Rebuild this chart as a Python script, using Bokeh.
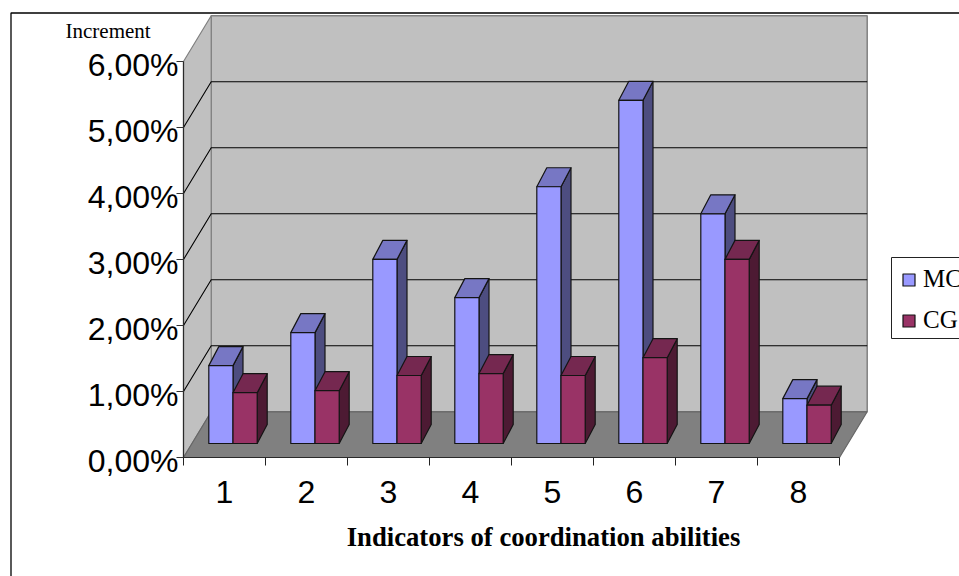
from bokeh.plotting import figure
from bokeh.models import LinearAxis, FixedTicker, Legend, LegendItem, Range1d, Label
from bokeh.embed import file_html
from bokeh.resources import INLINE

# ---- data
categories = ["1", "2", "3", "4", "5", "6", "7", "8"]
mc_values = [1.18, 1.68, 2.79, 2.21, 3.89, 5.20, 3.48, 0.68]
cg_values = [0.77, 0.80, 1.03, 1.06, 1.03, 1.30, 2.79, 0.58]
y_ticks = [0, 1, 2, 3, 4, 5, 6]
y_tick_labels = ["0,00%", "1,00%", "2,00%", "3,00%", "4,00%", "5,00%", "6,00%"]
series_names = ["MC", "CG"]
x_title = "Indicators of coordination abilities"
y_title = "Increment"

# ---- layout (pixels in page)
W, H = 959, 576
PX_X0, PX_Y0 = 183.0, 457.0      # origin of the front plane
UX, UY = 82.0, 66.0              # pixels per category / per percent
def dx(px): return px / UX
def dy(px): return px / UY
def X(px): return (px - PX_X0) / UX
def Y(py): return (PX_Y0 - py) / UY

p = figure(width=W, height=H, output_backend="svg", toolbar_location=None,
           x_range=Range1d(X(0), X(W)), y_range=Range1d(Y(H), Y(0)),
           x_axis_type=None, y_axis_type=None, min_border=0,
           background_fill_color="white", border_fill_color="white")
p.outline_line_color = None
p.grid.visible = False

WD_X, WD_Y = dx(27.7), dy(45.7)      # depth of the walls
n = len(categories)
ymax = y_ticks[-1]

# outer chart box
p.line([X(10.5), X(10.5), X(W)], [Y(H), Y(12.5), Y(12.5)], line_color="black", line_width=1.3)

# walls & floor
p.patch([WD_X, n + WD_X, n + WD_X, WD_X], [WD_Y, WD_Y, ymax + WD_Y, ymax + WD_Y],
        fill_color="#C0C0C0", line_color="#808080", line_width=1.5)
p.patch([0, WD_X, WD_X, 0], [0, WD_Y, ymax + WD_Y, ymax],
        fill_color="#C0C0C0", line_color="#808080", line_width=1.2)
p.multi_line([[0, WD_X, n + WD_X] for t in y_ticks[1:-1]],
             [[t, t + WD_Y, t + WD_Y] for t in y_ticks[1:-1]],
             line_color="black", line_width=1.1)
p.patch([0, n, n + WD_X, WD_X], [0, 0, WD_Y, WD_Y],
        fill_color="#808080", line_color="#666666", line_width=1.2)

# axis lines of the front plane
p.line([0, 0, n], [ymax, 0, 0], line_color="#2a2a2a", line_width=1.2)

# 3-D bars
BAR_W = dx(24.2)
BAR_DX, BAR_DY = dx(10), dy(19)
BASE_X, BASE_Y = dx(25.3), dy(14)
styles = [("#9999FF", "#7777C4", "#4D4D80"), ("#993366", "#752850", "#4D1A33")]
fronts = []
for s, values in enumerate([mc_values, cg_values]):
    front_c, top_c, side_c = styles[s]
    lefts = [i + BASE_X + s * BAR_W for i in range(n)]
    rights = [l + BAR_W for l in lefts]
    tops = [BASE_Y + v for v in values]
    kw = dict(line_color="#141414", line_width=1.2, line_join="round")
    p.patches([[r, r + BAR_DX, r + BAR_DX, r] for r in rights],
              [[BASE_Y, BASE_Y + BAR_DY, t + BAR_DY, t] for t in tops],
              fill_color=side_c, **kw)
    p.patches([[l, r, r + BAR_DX, l + BAR_DX] for l, r in zip(lefts, rights)],
              [[t, t, t + BAR_DY, t + BAR_DY] for t in tops],
              fill_color=top_c, **kw)
    fronts.append(p.quad(left=lefts, right=rights, bottom=[BASE_Y] * n, top=tops,
                         fill_color=front_c, **kw))

# axes: labels sit on major ticks (no mark), the tick marks are the minor ticks
label_shift = dy(3.5)
label_pos = [t - label_shift for t in y_ticks]
yaxis = LinearAxis(fixed_location=0, ticker=FixedTicker(ticks=label_pos, minor_ticks=y_ticks),
                   major_label_overrides={t: l for t, l in zip(label_pos, y_tick_labels)},
                   major_label_text_font="Liberation Sans", major_label_text_font_size="32px",
                   major_label_text_color="black", major_label_standoff=-2,
                   major_tick_line_color=None, axis_line_color=None,
                   minor_tick_out=7, minor_tick_in=0, minor_tick_line_color="#333333")
p.add_layout(yaxis, "left")

centers = [i + 0.5 for i in range(n)]
xaxis = LinearAxis(fixed_location=0, bounds=(0, dx(2 * (543 - PX_X0))),
                   ticker=FixedTicker(ticks=centers, minor_ticks=list(range(n + 1))),
                   major_label_overrides={c: l for c, l in zip(centers, categories)},
                   major_label_text_font="Liberation Sans", major_label_text_font_size="32px",
                   major_label_text_color="black", major_label_standoff=15,
                   major_tick_line_color=None, axis_line_color=None,
                   minor_tick_out=8, minor_tick_in=0, minor_tick_line_color="#222222",
                   axis_label=x_title, axis_label_text_font="Liberation Serif",
                   axis_label_text_font_size="26.7px", axis_label_text_font_style="bold",
                   axis_label_text_color="black", axis_label_standoff=16)
p.add_layout(xaxis, "below")

p.add_layout(Label(x=X(65), y=Y(42), text=y_title, text_font="Liberation Serif",
                   text_font_size="21px", text_color="black"))

# legend box, then the legend itself
p.patch([X(891), X(W + 5), X(W + 5), X(891)], [Y(338), Y(338), Y(257), Y(257)],
        fill_color="white", line_color="#222222", line_width=1)
legend = Legend(items=[LegendItem(label=series_names[i], renderers=[fronts[i]]) for i in range(2)],
                location=(901, 242), orientation="vertical", border_line_color=None,
                background_fill_alpha=0,
                label_text_font="Liberation Serif", label_text_font_size="25px",
                label_text_color="black", glyph_width=15, glyph_height=15, label_standoff=7,
                padding=10, margin=0, spacing=13, label_height=27)
p.add_layout(legend, "center")

open("out.html", "w").write(file_html(p, INLINE))
